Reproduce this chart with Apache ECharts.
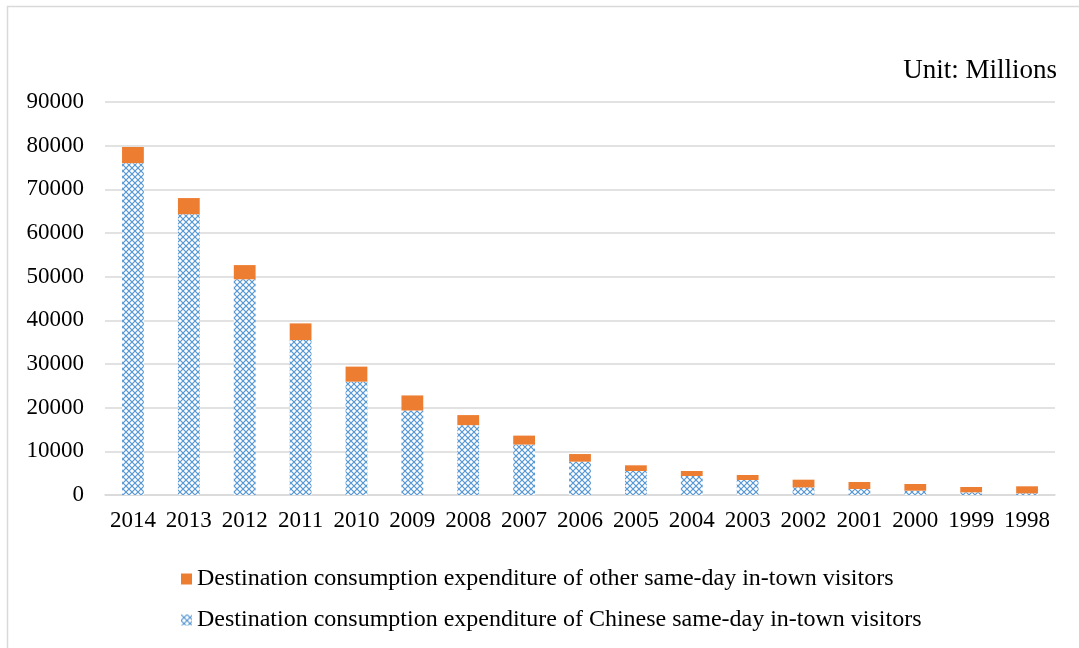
<!DOCTYPE html>
<html>
<head>
<meta charset="utf-8">
<script src="https://cdn.jsdelivr.net/npm/echarts@6/dist/echarts.min.js"></script>
<style>
  html, body { margin: 0; padding: 0; background: #fff; }
  #chart { width: 1079px; height: 648px; }
</style>
</head>
<body>
<div id="chart"></div>
<script>
// Years shown on the category axis
const years = ['2014', '2013', '2012', '2011', '2010', '2009', '2008', '2007', '2006',
  '2005', '2004', '2003', '2002', '2001', '2000', '1999', '1998'];

// Destination consumption expenditure of Chinese same-day in-town visitors (millions)
const chineseVisitors = [76000, 64300, 49400, 35500, 25950, 19350, 16000, 11550, 7630,
  5500, 4350, 3430, 1760, 1370, 990, 610, 380];

// Destination consumption expenditure of other same-day in-town visitors (millions)
const otherVisitors = [3700, 3700, 3250, 3800, 3450, 3450, 2300, 2050, 1750,
  1300, 1150, 1150, 1750, 1610, 1530, 1220, 1610];

const yTicks = { min: 0, max: 90000, interval: 10000 };

const nameOther = 'Destination consumption expenditure of other same-day in-town visitors';
const nameChinese = 'Destination consumption expenditure of Chinese same-day in-town visitors';

// Small repeating diamond-lattice tile used as the fill of the Chinese visitors series
function makeLatticeTile() {
  const n = 6;
  const c = document.createElement('canvas');
  c.width = n; c.height = n;
  const ctx = c.getContext('2d');
  ctx.fillStyle = '#ffffff';
  ctx.fillRect(0, 0, n, n);
  for (let y = 0; y < n; y++) {
    for (let x = 0; x < n; x++) {
      const onLine = (x === y) || (x + y === n - 1);
      const nearLine = Math.abs(x - y) === 1 || Math.abs(x + y - (n - 1)) === 1;
      if (onLine) {
        ctx.fillStyle = '#5B9BD5';
        ctx.fillRect(x, y, 1, 1);
      } else if (nearLine) {
        ctx.fillStyle = '#C9DDF2';
        ctx.fillRect(x, y, 1, 1);
      }
    }
  }
  return c;
}

const font = '"Liberation Serif", "Times New Roman", serif';
const chart = echarts.init(document.getElementById('chart'), null, { renderer: 'canvas' });

chart.setOption({
  backgroundColor: '#ffffff',
  animation: false,
  textStyle: { fontFamily: font, color: '#000' },
  grid: { left: 105, right: 24, top: 102, bottom: 153, containLabel: false },
  graphic: [
    {
      type: 'rect',
      shape: { x: 7.5, y: 6.5, width: 1100, height: 700 },
      style: { fill: 'none', stroke: '#D9D9D9', lineWidth: 1.5 },
      silent: true
    },
    {
      type: 'text',
      right: 22,
      top: 57,
      style: { text: 'Unit: Millions', font: '27px ' + font, fill: '#000' }
    }
  ],
  legend: {
    orient: 'vertical',
    left: 176,
    top: 562,
    itemGap: 17,
    itemWidth: 11,
    itemHeight: 11,
    icon: 'rect',
    data: [nameOther, nameChinese],
    textStyle: { fontFamily: font, fontSize: 24, color: '#000' }
  },
  xAxis: {
    type: 'category',
    data: years,
    axisLine: { lineStyle: { color: '#D9D9D9', width: 1.5 } },
    axisTick: { show: false },
    axisLabel: { fontFamily: font, fontSize: 23, color: '#000', margin: 14, interval: 0 }
  },
  yAxis: {
    type: 'value',
    min: yTicks.min,
    max: yTicks.max,
    interval: yTicks.interval,
    axisLine: { show: false },
    axisTick: { show: false },
    splitLine: { lineStyle: { color: '#D9D9D9', width: 1.5 } },
    axisLabel: {
      fontFamily: font, fontSize: 23, color: '#000', margin: 21,
      formatter: (v) => String(v)
    }
  },
  series: [
    {
      name: nameChinese,
      type: 'bar',
      stack: 'total',
      barWidth: '39%',
      data: chineseVisitors,
      itemStyle: { color: { image: makeLatticeTile(), repeat: 'repeat' } }
    },
    {
      name: nameOther,
      type: 'bar',
      stack: 'total',
      barWidth: '39%',
      data: otherVisitors,
      itemStyle: { color: '#ED7D31' }
    }
  ]
});
</script>
</body>
</html>
